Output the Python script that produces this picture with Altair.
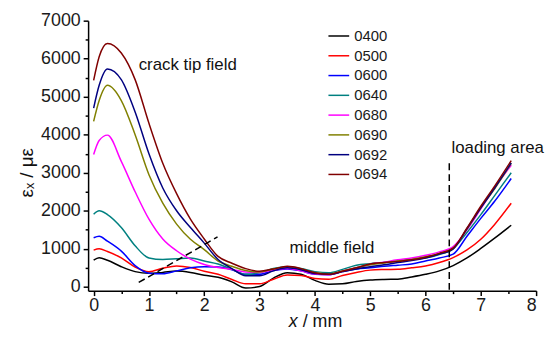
import altair as alt
import pandas as pd

# x positions (mm)
X = [0, 0.1, 0.25, 0.5, 0.75, 1.0, 1.25, 1.5, 1.75, 2.0, 2.25, 2.5, 2.75, 3.0, 3.25, 3.5,
     3.75, 4.0, 4.25, 4.5, 4.75, 5.0, 5.25, 5.5, 5.75, 6.0, 6.25, 6.5, 6.75, 7.0, 7.25, 7.55]

s0400 = [700, 765, 700, 530, 400, 355, 380, 415, 380, 305, 250, 130, -30, 10, 230, 370,
         330, 170, 70, 80, 140, 180, 195, 200, 260, 330, 420, 560, 760, 1010, 1280, 1620]
s0500 = [965, 1000, 930, 760, 520, 400, 490, 550, 510, 410, 330, 195, 80, 80, 200, 310,
         300, 220, 200, 300, 380, 440, 455, 460, 500, 550, 640, 770, 970, 1250, 1640, 2200]
s0600 = [1290, 1330, 1200, 940, 560, 360, 345, 420, 500, 530, 520, 450, 330, 330, 430, 470,
         420, 330, 320, 400, 470, 500, 540, 570, 600, 680, 760, 860, 1330, 1800, 2250, 2850]
s0640 = [1910, 2000, 1900, 1560, 1080, 760, 720, 740, 760, 680, 600, 460, 330, 370, 480, 530,
         480, 400, 370, 460, 570, 610, 640, 680, 720, 760, 850, 1000, 1430, 1900, 2400, 3000]
s0680 = [3480, 3850, 3990, 3300, 2500, 1780, 1260, 950, 730, 590, 510, 460, 390, 380, 440, 480,
         420, 340, 320, 420, 500, 590, 650, 710, 760, 830, 920, 1060, 1500, 2050, 2600, 3200]
s0690 = [4350, 4900, 5300, 4900, 4000, 2950, 2200, 1650, 1250, 980, 680, 540, 430, 390, 470, 520,
         470, 370, 340, 420, 500, 580, 630, 680, 720, 790, 880, 1020, 1520, 2080, 2580, 3250]
s0692 = [4700, 5300, 5730, 5450, 4600, 3500, 2600, 2000, 1560, 1150, 720, 480, 290, 290, 420, 500,
         450, 350, 330, 400, 470, 530, 580, 640, 690, 760, 860, 1000, 1530, 2080, 2600, 3260]
s0694 = [5430, 6050, 6400, 6150, 5450, 4300, 3250, 2450, 1780, 1260, 800, 620, 480, 410, 470, 540,
         480, 370, 330, 410, 500, 600, 640, 670, 710, 780, 880, 1020, 1550, 2120, 2650, 3320]

names = ["0400", "0500", "0600", "0640", "0680", "0690", "0692", "0694"]
colors = ["#000000", "#FF0000", "#0000FF", "#008080", "#FF00FF", "#808000", "#000080", "#800000"]
series = [s0400, s0500, s0600, s0640, s0680, s0690, s0692, s0694]

x_ticks = [i * 0.5 for i in range(17)]
y_ticks = [i * 500 for i in range(15)]

# annotations (data coordinates)
ann_text = ["crack tip field", "middle field", "loading area"]
ann_x = [0.815, 3.54, 6.47]
ann_y = [5700, 896, 3515]

vline_x = [6.43]
vline_y = [3250]
vline_y2 = [-100]

diag_x = [0.815]
diag_x2 = [2.24]
diag_y = [115]
diag_y2 = [1313]

FONT = "Liberation Sans"

rows = []
for i, (n, s) in enumerate(zip(names, series)):
    for xv, yv in zip(X, s):
        rows.append({"x": xv, "y": yv, "series": n, "ord": i})
df = pd.DataFrame(rows)

xscale = alt.Scale(domain=[-0.1, 8], nice=False, zero=False)
yscale = alt.Scale(domain=[-100, 7000], nice=False, zero=False)

x_axis = alt.Axis(
    values=x_ticks,
    labelExpr="datum.value % 1 == 0 ? format(datum.value, 'd') : ''",
    labelOverlap=False,
    tickSize={"condition": {"test": "datum.value % 1 != 0", "value": 3}, "value": 5},
    grid=False, domainColor="black", domainWidth=1.5, tickColor="black", tickWidth=1.5,
    labelFont=FONT, labelFontSize=18, labelColor="#1a1a1a", labelPadding=1, title=None,
)
y_axis = alt.Axis(
    values=y_ticks,
    labelExpr="datum.value % 1000 == 0 ? format(datum.value, 'd') : ''",
    labelOverlap=False,
    tickSize={"condition": {"test": "datum.value % 1000 != 0", "value": 3}, "value": 5},
    grid=False, domainColor="black", domainWidth=1.5, tickColor="black", tickWidth=1.5,
    labelFont=FONT, labelFontSize=18, labelColor="#1a1a1a", labelPadding=3, title=None,
)

XE = alt.X("x:Q", scale=xscale, axis=x_axis)
YE = alt.Y("y:Q", scale=yscale, axis=y_axis)

lines = alt.Chart(df).mark_line(interpolate="monotone", strokeWidth=1.5).encode(
    x=XE,
    y=YE,
    color=alt.Color(
        "series:N",
        scale=alt.Scale(domain=names, range=colors),
        legend=alt.Legend(
            orient="none", legendX=242, legendY=4, title=None,
            symbolType="stroke", symbolSize=440, symbolStrokeWidth=1.5,
            labelFont=FONT, labelFontSize=15, labelColor="#1a1a1a",
            rowPadding=0, padding=0, labelOffset=4,
        ),
    ),
    order="ord:Q",
)

ann = alt.Chart(pd.DataFrame({"t": ann_text, "x": ann_x, "y": ann_y})).mark_text(
    align="left", baseline="alphabetic", font=FONT, fontSize=17, color="#111111"
).encode(x=XE, y=YE, text="t:N")

vline = alt.Chart(pd.DataFrame({"x": vline_x, "y": vline_y, "y2": vline_y2})).mark_rule(
    strokeDash=[7, 4], strokeWidth=1.5, color="black"
).encode(x=XE, y=YE, y2="y2:Q")

diag = alt.Chart(pd.DataFrame({"x": diag_x, "x2": diag_x2, "y": diag_y, "y2": diag_y2})).mark_rule(
    strokeDash=[7, 4], strokeWidth=1.5, color="black"
).encode(x=XE, x2="x2:Q", y=YE, y2="y2:Q")

# axis titles as text
xt_x = alt.Chart(pd.DataFrame({"t": ["x"], "x": [3.69], "y": [-1062]})).mark_text(
    align="right", baseline="alphabetic", font=FONT, fontSize=18, fontStyle="italic", color="#111111"
).encode(x=XE, y=YE, text="t:N")
xt_r = alt.Chart(pd.DataFrame({"t": ["/ mm"], "x": [3.78], "y": [-1062]})).mark_text(
    align="left", baseline="alphabetic", font=FONT, fontSize=18, color="#111111"
).encode(x=XE, y=YE, text="t:N")
yt = alt.Chart(pd.DataFrame({"t": ["εₓ / με"], "x": [-1.2], "y": [3000]})).mark_text(
    align="center", baseline="middle", font=FONT, fontSize=19, angle=270, color="#111111"
).encode(x=XE, y=YE, text="t:N")

chart = alt.layer(lines, vline, diag, ann, xt_x, xt_r, yt).properties(
    width=453, height=273,
    autosize=alt.AutoSizeParams(type="none"),
    padding={"left": 81, "top": 11, "right": 10, "bottom": 40},
).configure_view(stroke=None)

chart.save("out.html", embed_options={"renderer": "svg", "actions": False})
